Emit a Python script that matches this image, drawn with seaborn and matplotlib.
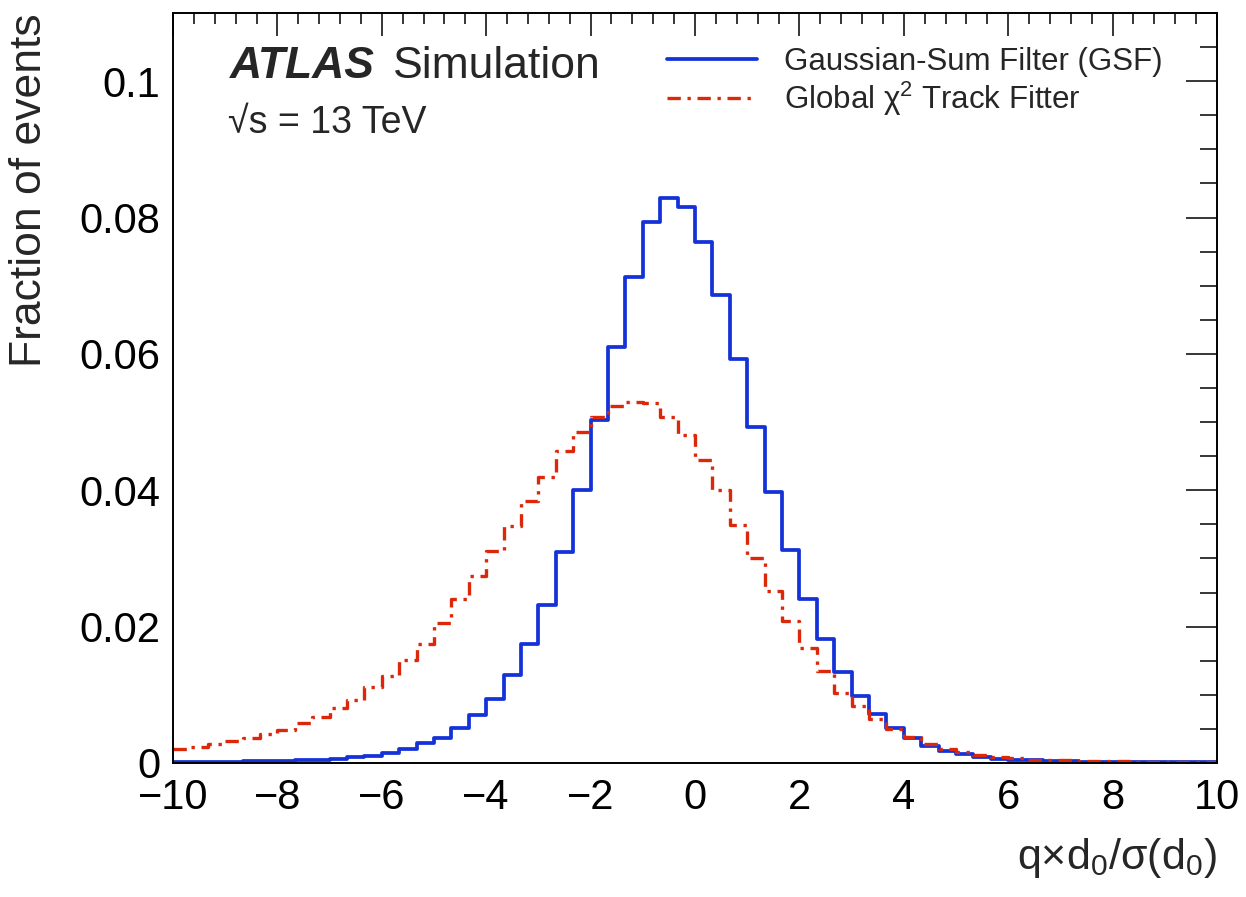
import numpy as np
import pandas as pd
import matplotlib
matplotlib.use("Agg")
import matplotlib.pyplot as plt
from matplotlib.ticker import MultipleLocator, FuncFormatter
import seaborn as sns

# ---- data ----
bin_lo, bin_hi, n_bins = -10.0, 10.0, 60
gsf = [0.0002, 0.0002, 0.0002, 0.0002, 0.0003, 0.0003, 0.0003, 0.0004, 0.0005, 0.0006,
       0.0009, 0.0011, 0.0015, 0.0020, 0.0029, 0.0037, 0.0051, 0.0070, 0.0094, 0.0129,
       0.0174, 0.0232, 0.0309, 0.0400, 0.0503, 0.0610, 0.0713, 0.0794, 0.0829, 0.0816,
       0.0764, 0.0686, 0.0592, 0.0493, 0.0397, 0.0313, 0.0241, 0.0182, 0.0134, 0.0099,
       0.0072, 0.0051, 0.0036, 0.0025, 0.0018, 0.0013, 0.0009, 0.0006, 0.0005, 0.0004,
       0.0003, 0.0003, 0.0002, 0.0002, 0.0002, 0.0001, 0.0001, 0.0001, 0.0001, 0.0001]
gx2 = [0.0020, 0.0024, 0.0028, 0.0032, 0.0037, 0.0043, 0.0049, 0.0058, 0.0068, 0.0080,
       0.0093, 0.0111, 0.0128, 0.0151, 0.0174, 0.0206, 0.0240, 0.0274, 0.0311, 0.0348,
       0.0384, 0.0420, 0.0458, 0.0486, 0.0508, 0.0524, 0.0530, 0.0528, 0.0508, 0.0481,
       0.0445, 0.0400, 0.0349, 0.0301, 0.0253, 0.0209, 0.0168, 0.0135, 0.0102, 0.0083,
       0.0065, 0.0050, 0.0038, 0.0028, 0.0021, 0.0016, 0.0012, 0.0009, 0.0007, 0.0005,
       0.0004, 0.0004, 0.0003, 0.0003, 0.0003, 0.0002, 0.0002, 0.0002, 0.0002, 0.0002]
label_gsf = "Gaussian-Sum Filter (GSF)"
label_gx2 = r"Global $\chi^2$ Track Fitter"
x_ticks = [-10, -8, -6, -4, -2, 0, 2, 4, 6, 8, 10]
y_ticks = [0, 0.02, 0.04, 0.06, 0.08, 0.1]

edges = np.linspace(bin_lo, bin_hi, n_bins + 1)
centers = 0.5 * (edges[:-1] + edges[1:])
df = pd.DataFrame({"x": centers, "gsf": gsf, "gx2": gx2})

# ---- style ----
sns.set_style("white")
plt.rcParams["font.family"] = ["Liberation Sans", "DejaVu Sans"]
plt.rcParams["mathtext.fontset"] = "custom"
plt.rcParams["mathtext.rm"] = "Liberation Sans"
plt.rcParams["mathtext.it"] = "Liberation Sans:italic"
plt.rcParams["mathtext.bf"] = "Liberation Sans:bold"
plt.rcParams["mathtext.default"] = "regular"

blue = "#1432d8"
red = "#dc280a"

fig = plt.figure(figsize=(12.46, 8.97), dpi=100)
ax = fig.add_axes([173 / 1246, 1 - 763 / 897, 1044 / 1246, 750 / 897])

sns.histplot(data=df, x="x", weights="gsf", bins=n_bins, binrange=(bin_lo, bin_hi),
             element="step", fill=False, color=blue, linewidth=2.7, ax=ax,
             label=label_gsf)
sns.histplot(data=df, x="x", weights="gx2", bins=n_bins, binrange=(bin_lo, bin_hi),
             element="step", fill=False, color=red, linewidth=2.4,
             linestyle=(0, (4, 2, 1, 2)), ax=ax, label=label_gx2)

ax.set_xlim(-10, 10)
ax.set_ylim(0, 0.11)
ax.set_xticks(x_ticks)
ax.set_yticks(y_ticks)
ax.xaxis.set_minor_locator(MultipleLocator(0.4))
ax.yaxis.set_minor_locator(MultipleLocator(0.005))
ax.yaxis.set_major_formatter(FuncFormatter(lambda v, p: "0" if abs(v) < 1e-12 else f"{v:g}"))

for s in ax.spines.values():
    s.set_visible(True)
    s.set_linewidth(1.4)
    s.set_color("black")

ax.tick_params(axis="both", which="both", direction="in", top=True, right=True,
               colors="black", width=1.1, labelsize=30)
ax.tick_params(axis="x", which="major", length=16.5, pad=11)
ax.tick_params(axis="x", which="minor", length=8)
ax.tick_params(axis="y", which="major", length=22, pad=9)
ax.tick_params(axis="y", which="minor", length=12)

ax.set_ylabel("Fraction of events", fontsize=32, loc="top")
ax.yaxis.set_label_coords(-0.118, 1.0)
ax.set_xlabel(r"q×d$_0$/σ(d$_0$)", fontsize=31, loc="right", labelpad=13)

ax.text(0.0546, 0.913, "ATLAS", transform=ax.transAxes, fontsize=32,
        fontweight="bold", fontstyle="italic", va="baseline", ha="left")
ax.text(0.2107, 0.913, "Simulation", transform=ax.transAxes, fontsize=32,
        va="baseline", ha="left")
ax.text(0.053, 0.840, "√s = 13 TeV", transform=ax.transAxes, fontsize=27,
        va="baseline", ha="left")

ax.legend(loc="upper left", bbox_to_anchor=(0.473, 0.955), frameon=False,
          fontsize=22.5, handlelength=2.9, handletextpad=0.85, labelspacing=0.1,
          borderaxespad=0, borderpad=0)

ax.grid(False)
fig.savefig("out.png", dpi=100, facecolor="white")
